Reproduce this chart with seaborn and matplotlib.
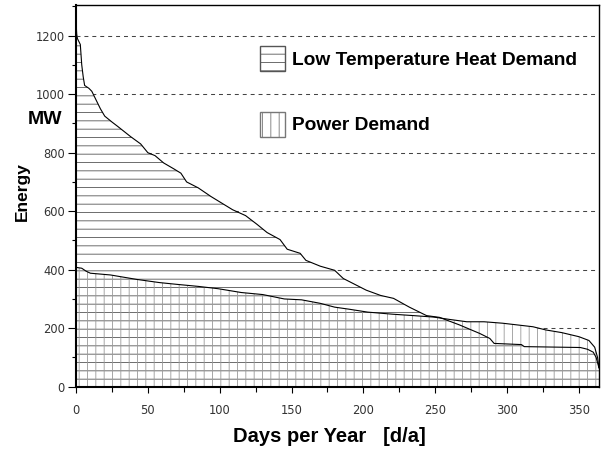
import numpy as np
import matplotlib
matplotlib.use("Agg")
import matplotlib.pyplot as plt
import seaborn as sns
from matplotlib.patches import Patch
from matplotlib.ticker import MultipleLocator

# Annual duration curves
heat_days = [0, 0.5, 1, 3, 4, 5, 6, 9, 11, 13, 17, 20, 25, 29, 38, 45, 50, 55, 61, 68,
             73, 77, 85, 94, 100, 109, 118, 126, 133, 142, 147, 156, 160, 170, 180, 186,
             202, 212, 221, 232, 244, 253, 267, 281, 288, 291, 310, 312, 351, 356, 360,
             362, 363, 364]
heat_mw = [1250, 1205, 1190, 1170, 1100, 1060, 1030, 1020, 1010, 990, 950, 925, 905, 890,
           855, 830, 800, 790, 765, 745, 730, 700, 680, 650, 632, 605, 585, 555, 527, 503,
           470, 456, 432, 412, 398, 370, 330, 312, 302, 272, 243, 237, 211, 182, 165, 148,
           144, 137, 134, 128, 118, 100, 82, 64]

power_days = [0, 4, 7, 10, 24, 42, 58, 70, 85, 99, 115, 130, 145, 157, 170, 180, 190, 203,
              220, 235, 249, 260, 272, 284, 297, 318, 327, 338, 350, 357, 361, 363, 364]
power_mw = [408, 405, 395, 388, 382, 367, 356, 350, 343, 335, 322, 315, 300, 297, 285, 272,
            265, 255, 248, 243, 238, 230, 222, 222, 217, 205, 194, 185, 171, 158, 135, 100, 64]

heat_label = "Low Temperature Heat Demand"
power_label = "Power Demand"


def main():
    sns.set_theme(style="white")
    plt.rcParams["font.family"] = ["DejaVu Sans"]
    plt.rcParams["hatch.linewidth"] = 0.6

    fig = plt.figure(figsize=(6.04, 4.49), dpi=100)
    ax = fig.add_axes([76 / 604, 1 - 386.7 / 449, 523 / 604, 382 / 449])

    # common grid of days so both curves can be compared
    grid = np.linspace(0, 364, 2000)
    heat_i = np.interp(grid, heat_days, heat_mw)
    power_i = np.interp(grid, power_days, power_mw)

    # white underlay hides the dashed grid behind the areas
    ax.fill_between(grid, 0, np.maximum(heat_i, power_i), color="white", lw=0, zorder=2)
    ax.fill_between(heat_days, 0, heat_mw, facecolor="none", edgecolor="#555555",
                    hatch="--", lw=0, zorder=3)
    ax.fill_between(power_days, 0, power_mw, facecolor="none", edgecolor="#999999",
                    hatch="||", lw=0, zorder=3)

    sns.lineplot(x=heat_days, y=heat_mw, color="black", lw=0.8, ax=ax, zorder=4,
                 estimator=None, sort=False)
    sns.lineplot(x=power_days, y=power_mw, color="black", lw=0.8, ax=ax, zorder=4,
                 estimator=None, sort=False)

    ax.set_xlim(0, 364)
    ax.set_ylim(0, 1306)
    ax.xaxis.set_major_locator(MultipleLocator(50))
    ax.xaxis.set_minor_locator(MultipleLocator(25))
    ax.yaxis.set_major_locator(MultipleLocator(200))
    ax.yaxis.set_minor_locator(MultipleLocator(100))

    for y in range(200, 1201, 200):
        ax.axhline(y, color="#444444", lw=0.75, ls=(0, (3.8, 3.8)), zorder=1)

    ax.tick_params(which="both", direction="out", colors="black", labelcolor="#333333",
                   labelsize=8.3, bottom=True, left=True)
    ax.tick_params(axis="y", which="major", length=5.5, width=0.8, pad=2.5)
    ax.tick_params(axis="y", which="minor", length=3, width=0.8)
    ax.tick_params(axis="x", which="major", length=4.5, width=0.8, pad=8)
    ax.tick_params(axis="x", which="minor", length=3.5, width=0.8)

    for side in ["left", "bottom"]:
        ax.spines[side].set_linewidth(1.5)
    for side in ["top", "right"]:
        ax.spines[side].set_linewidth(1.0)
    for s in ax.spines.values():
        s.set_color("black")
        s.set_zorder(5)

    bold = dict(family="Liberation Sans", weight="bold", color="black")
    ax.set_xlabel("")
    ax.set_ylabel("")
    fig.text(329 / 604, 1 - 437 / 449, "Days per Year   [d/a]", ha="center", va="center",
             size=14.5, **bold)
    fig.text(22 / 604, 1 - 192 / 449, "Energy", rotation=90, ha="center", va="center",
             size=12.5, **bold)
    fig.text(45 / 604, 1 - 120 / 449, "MW", ha="center", va="center", size=14, **bold)

    handles = [
        Patch(facecolor="white", edgecolor="#555555", hatch="--", lw=1.0),
        Patch(facecolor="white", edgecolor="#777777", hatch="||", lw=1.0),
    ]
    ax.legend(handles, [heat_label, power_label], loc="upper left",
              bbox_to_anchor=(260 / 604, 1 - 46 / 449), bbox_transform=fig.transFigure,
              frameon=False, borderpad=0, borderaxespad=0,
              handlelength=1.3, handleheight=1.65, handletextpad=0.36, labelspacing=2.1,
              labelcolor="black",
              prop=dict(family="Liberation Sans", weight="bold", size=13.8))

    fig.savefig("out.png", dpi=100)
    plt.close(fig)


if __name__ == "__main__":
    main()
